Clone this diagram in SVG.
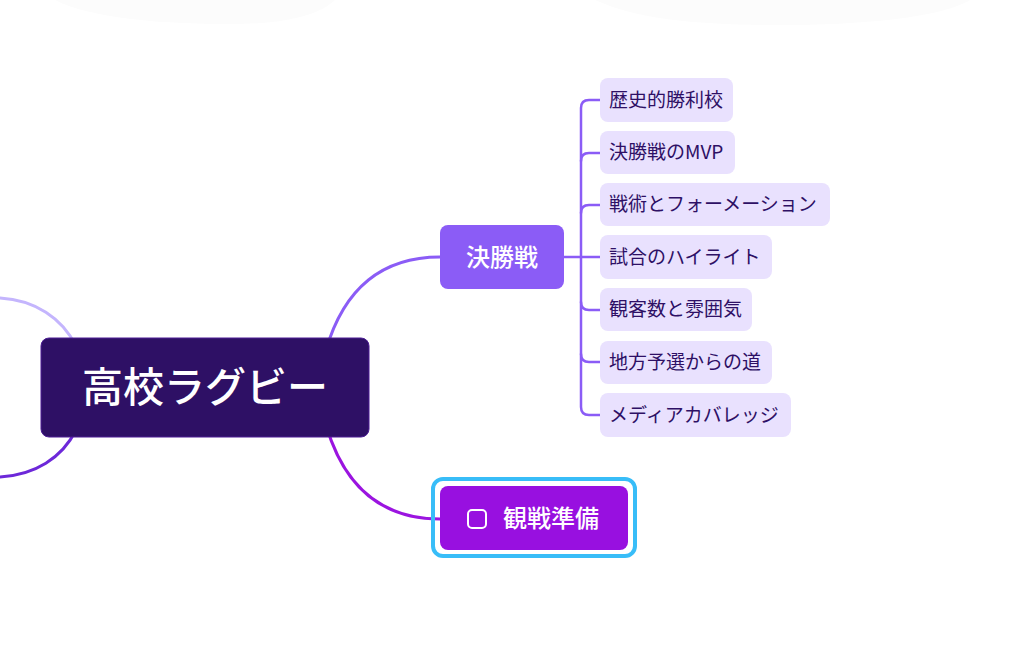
<svg xmlns="http://www.w3.org/2000/svg" width="1024" height="646" viewBox="0 0 1024 646">
<style>
.conn{fill:none;stroke-linecap:round}
.leaf rect{fill:#e9e1fe}
.leaf text{font-family:"Noto Sans CJK JP","Noto Sans",sans-serif;font-size:19px;fill:#2e1065}
.big{font-family:"Noto Sans CJK JP","Noto Sans",sans-serif;fill:#ffffff;font-weight:500}
</style>
<rect width="1024" height="646" fill="#ffffff"/>
<path d="M 55 0 C 90 18 160 24 230 24 C 290 24 320 14 335 0 Z" fill="#fcfcfc"/>
<path d="M 595 0 C 640 20 700 25 780 25 C 860 25 940 18 970 0 Z" fill="#fcfcfc"/>
<g id="connectors">
<path class="conn" d="M 0 298 C 35 300 62 318 76 346" stroke="#c4b5fd" stroke-width="3"/>
<path class="conn" d="M 76 430 C 62 458 35 475 0 477" stroke="#6d28d9" stroke-width="3"/>
<path class="conn" d="M 326 350 C 345 285 385 257 440 257" stroke="#8b5cf6" stroke-width="3"/>
<path class="conn" d="M 326 425 C 345 490 385 519 440 519" stroke="#9b14e0" stroke-width="3"/>
<g stroke="#8b5cf6" stroke-width="2.5" class="conn">
<path d="M 564 257 L 600 257"/>
<path d="M 600 100 L 589 100 Q 581 100 581 108 L 581 407 Q 581 415 589 415 L 600 415"/>
<path d="M 600 153 L 589 153 Q 581 153 581 161"/>
<path d="M 600 205 L 589 205 Q 581 205 581 213"/>
<path d="M 600 310 L 589 310 Q 581 310 581 302"/>
<path d="M 600 362 L 589 362 Q 581 362 581 354"/>
</g>
</g>
<g id="root">
<rect x="41" y="338" width="328" height="99" rx="8" fill="#2e1065" stroke="#4c1d95" stroke-width="1"/>
<text class="big" x="205" y="402" text-anchor="middle" font-size="41">高校ラグビー</text>
</g>
<g id="kesshosen">
<rect x="440" y="225" width="124" height="64" rx="8" fill="#8b5cf6"/>
<text class="big" x="502" y="266" text-anchor="middle" font-size="24">決勝戦</text>
</g>
<g id="kansen">
<rect x="433" y="479" width="202" height="77" rx="10" fill="none" stroke="#38bdf8" stroke-width="4"/>
<rect x="440" y="486" width="188" height="64" rx="8" fill="#9810e0"/>
<rect x="468" y="510" width="18" height="18" rx="4" fill="none" stroke="#ffffff" stroke-width="2"/>
<text class="big" x="503" y="527" font-size="24">観戦準備</text>
</g>
<g id="leaf1" class="leaf"><rect x="600" y="78" width="133" height="44" rx="8"/><text x="609" y="107">歴史的勝利校</text></g>
<g id="leaf2" class="leaf"><rect x="600" y="131" width="135" height="43" rx="8"/><text x="609" y="159">決勝戦のMVP</text></g>
<g id="leaf3" class="leaf"><rect x="600" y="183" width="230" height="43" rx="8"/><text x="609" y="211">戦術とフォーメーション</text></g>
<g id="leaf4" class="leaf"><rect x="600" y="235" width="172" height="44" rx="8"/><text x="609" y="264">試合のハイライト</text></g>
<g id="leaf5" class="leaf"><rect x="600" y="288" width="152" height="43" rx="8"/><text x="609" y="316">観客数と雰囲気</text></g>
<g id="leaf6" class="leaf"><rect x="600" y="341" width="172" height="43" rx="8"/><text x="609" y="369">地方予選からの道</text></g>
<g id="leaf7" class="leaf"><rect x="600" y="393" width="191" height="44" rx="8"/><text x="609" y="422">メディアカバレッジ</text></g>
</svg>
